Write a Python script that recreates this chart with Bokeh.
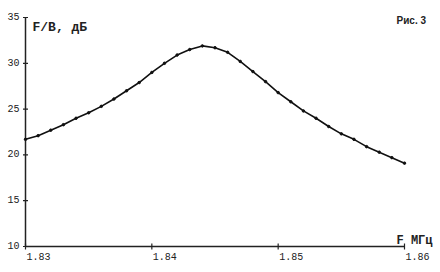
import math
from bokeh.plotting import figure
from bokeh.models import Range1d
from bokeh.core.properties import value
from bokeh.embed import file_html
from bokeh.resources import INLINE

# Data (frequency in MHz, F/B in dB)
freq = [1.830, 1.831, 1.832, 1.833, 1.834, 1.835, 1.836, 1.837, 1.838, 1.839,
        1.840, 1.841, 1.842, 1.843, 1.844, 1.845, 1.846, 1.847, 1.848, 1.849,
        1.850, 1.851, 1.852, 1.853, 1.854, 1.855, 1.856, 1.857, 1.858, 1.859,
        1.860]
fb = [21.7, 22.1, 22.7, 23.3, 24.0, 24.6, 25.3, 26.1, 27.0, 27.9,
      29.0, 30.0, 30.9, 31.5, 31.9, 31.7, 31.2, 30.2, 29.1, 28.0,
      26.8, 25.8, 24.8, 24.0, 23.1, 22.3, 21.7, 20.9, 20.3, 19.7,
      19.1]
x_ticks = [1.83, 1.84, 1.85, 1.86]
x_tick_labels = ["1.83", "1.84", "1.85", "1.86"]
y_ticks = [10, 15, 20, 25, 30, 35]
y_tick_labels = ["10", "15", "20", "25", "30", "35"]
y_title = "F/B, дБ"
x_title = "F  МГц"
fig_label = "Рис. 3"

W, H = 440, 272
# axes box inside the canvas (pixels)
left, right, top, bottom = 25, 404, 17, 246
x0, x1 = x_ticks[0], x_ticks[-1]
y0, y1 = y_ticks[0], y_ticks[-1]
sx = (x1 - x0) / (right - left)
sy = (y1 - y0) / (bottom - top)
xr = Range1d(x0 - left * sx, x1 + (W - right) * sx)
yr = Range1d(y0 - (H - bottom) * sy, y1 + top * sy)

p = figure(width=W, height=H, output_backend="svg", toolbar_location=None,
           x_range=xr, y_range=yr, min_border=0)
p.axis.visible = False
p.grid.visible = False
p.outline_line_color = None
p.background_fill_color = "white"
p.border_fill_color = "white"

ink = "#222222"
# axis lines
p.segment(x0=[x0, x0], y0=[y0, y0], x1=[x1, x0], y1=[y0, y1],
          line_color=ink, line_width=1.5)
# tick marks
p.scatter(x=x_ticks, y=[y0] * len(x_ticks), marker="dash", size=6,
          angle=math.pi / 2, line_color=ink, line_width=1.2)
p.scatter(x=[x0] * len(y_ticks), y=y_ticks, marker="dash", size=5,
          line_color=ink, line_width=1.2)

# curve
p.line(freq, fb, line_color="#111111", line_width=1.6)
p.scatter(freq, fb, size=2.5, color="#111111")

# tick labels
p.text(x=x_ticks, y=[y0] * len(x_ticks), text=x_tick_labels, x_offset=1, y_offset=6,
       text_align="left", text_baseline="top", text_font=value("Liberation Mono"),
       text_font_size="10px", text_color=ink)
p.text(x=[x0] * len(y_ticks), y=y_ticks, text=y_tick_labels, x_offset=-6, y_offset=-1,
       text_align="right", text_baseline="middle", text_font=value("Liberation Mono"),
       text_font_size="10px", text_color=ink)

# titles
p.text(x=[x0], y=[y1], text=[y_title], x_offset=7, y_offset=10,
       text_align="left", text_baseline="alphabetic", text_font=value("Liberation Mono"),
       text_font_style="bold", text_font_size="13px", text_color=ink)
p.text(x=[x1], y=[y0], text=[x_title], x_offset=-8, y_offset=-6,
       text_align="left", text_baseline="alphabetic", text_font=value("Liberation Mono"),
       text_font_style="bold", text_font_size="12px", text_color=ink)
p.text(x=[x1], y=[y1], text=[fig_label], x_offset=-8, y_offset=3,
       text_align="left", text_baseline="alphabetic", text_font=value("Liberation Sans"),
       text_font_style="bold", text_font_size="10px", text_color=ink)

open("out.html", "w").write(file_html(p, INLINE))
